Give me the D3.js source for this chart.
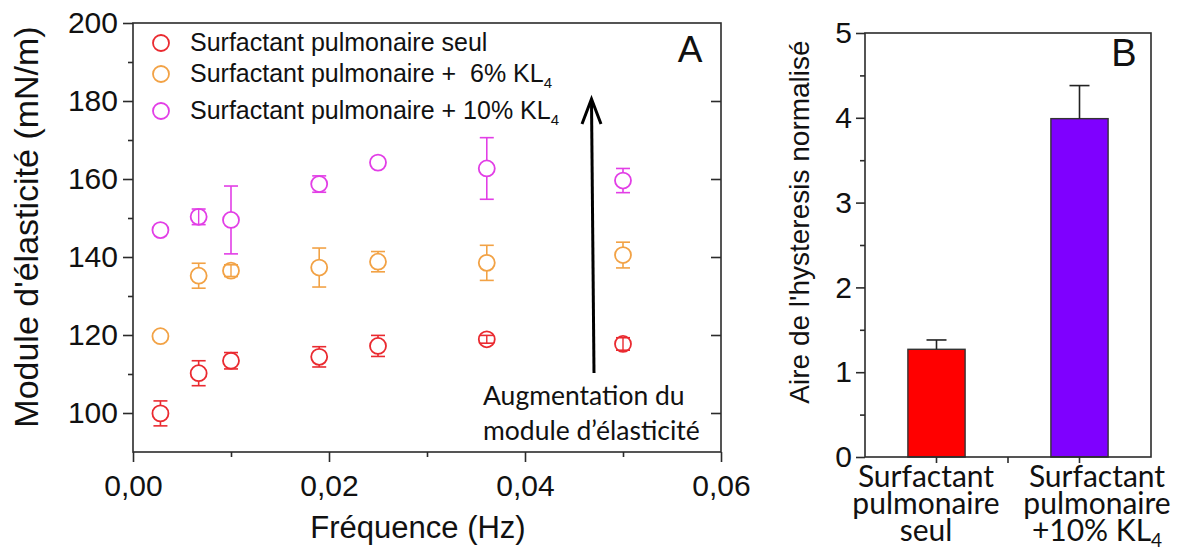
<!DOCTYPE html>
<html><head><meta charset="utf-8">
<script src="https://cdn.jsdelivr.net/npm/d3@7"></script>
<style>
html,body{margin:0;padding:0;background:#fff;}
svg{display:block;}
</style></head>
<body>
<script>
// ---------- DATA ----------
const frequencies = [0.0028, 0.0067, 0.0100, 0.0190, 0.0250, 0.0361, 0.0500];
const seulValues  = [99.9, 110.2, 113.4, 114.4, 117.2, 118.9, 117.7];
const seulErrors  = [3.2, 3.2, 2.1, 2.6, 2.7, 1.0, 1.6];
const kl6Values   = [119.7, 135.2, 136.5, 137.3, 138.8, 138.5, 140.5];
const kl6Errors   = [0, 3.2, 1.5, 5.0, 2.6, 4.5, 3.3];
const kl10Values  = [146.9, 150.3, 149.5, 158.7, 164.2, 162.7, 159.6];
const kl10Errors  = [0, 2.0, 8.7, 2.1, 0, 7.9, 3.1];
const legendLabels = ["Surfactant pulmonaire seul", "Surfactant pulmonaire +  6% KL", "Surfactant pulmonaire + 10% KL"];
const legendSubs   = ["", "4", "4"];
const yTicksA = [100, 120, 140, 160, 180, 200];
const yMinorA = [110, 130, 150, 170, 190];
const xTicksA = [0, 0.02, 0.04, 0.06];
const xTickLabelsA = ["0,00", "0,02", "0,04", "0,06"];
const xMinorA = [0.01, 0.03, 0.05];

const barCategories = ["seul", "kl10"];
const barValues = [1.27, 3.99];
const barErrors = [0.11, 0.39];
const barLabelLines = [["Surfactant", "pulmonaire", "seul"], ["Surfactant", "pulmonaire", "+10% KL"]];
const barLabelSubs = ["", "4"];
const yTicksB = [0, 1, 2, 3, 4, 5];
const yMinorB = [0.5, 1.5, 2.5, 3.5, 4.5];

// ---------- STYLE ----------
const seriesColors = ["#ea2a30", "#f2a245", "#e23ee6"];
const barColors = ["#ff0000", "#7f00ff"];
const axisColor = "#2b2b2b";
const arial = "'Liberation Sans', Arial, sans-serif";
const calibri = "Lato, 'Open Sans', sans-serif";

const W = 1182, H = 549;
const svg = d3.select("body").append("svg").attr("width", W).attr("height", H);

// ---------- PANEL A ----------
const A = {left: 133, right: 721, top: 23, bottom: 452};
const xA = d3.scaleLinear().domain([0, 0.06]).range([A.left, A.right]);
const yA = d3.scaleLinear().domain([90, 200]).range([A.bottom, A.top]);
const gA = svg.append("g");

gA.append("rect").attr("x", A.left).attr("y", A.top).attr("width", A.right - A.left).attr("height", A.bottom - A.top)
  .attr("fill", "none").attr("stroke", axisColor).attr("stroke-width", 1.6);

const leftAx = gA.append("g").attr("transform", `translate(${A.left},0)`)
  .call(d3.axisLeft(yA).tickValues(yTicksA).tickSize(10).tickPadding(5).tickFormat(d3.format("d")));
leftAx.select(".domain").remove();
leftAx.selectAll("line").attr("stroke", axisColor).attr("stroke-width", 1.6);
leftAx.selectAll("text").attr("font-family", arial).attr("font-size", 30).attr("fill", "#111");
gA.append("g").attr("transform", `translate(${A.left},0)`)
  .call(d3.axisLeft(yA).tickValues(yMinorA).tickSize(5).tickFormat(""))
  .call(g => g.select(".domain").remove())
  .selectAll("line").attr("stroke", axisColor).attr("stroke-width", 1.6);
gA.append("g").attr("transform", `translate(${A.right},0)`)
  .call(d3.axisLeft(yA).tickValues(yTicksA.slice(0, -1)).tickSize(10).tickFormat(""))
  .call(g => g.select(".domain").remove())
  .selectAll("line").attr("stroke", axisColor).attr("stroke-width", 1.6);

const botAx = gA.append("g").attr("transform", `translate(0,${A.bottom})`)
  .call(d3.axisBottom(xA).tickValues(xTicksA).tickSize(10).tickPadding(13).tickFormat((d, i) => xTickLabelsA[i]));
botAx.select(".domain").remove();
botAx.selectAll("line").attr("stroke", axisColor).attr("stroke-width", 1.6);
botAx.selectAll("text").attr("font-family", arial).attr("font-size", 30).attr("fill", "#111");
gA.append("g").attr("transform", `translate(0,${A.bottom})`)
  .call(d3.axisBottom(xA).tickValues(xMinorA).tickSize(5).tickFormat(""))
  .call(g => g.select(".domain").remove())
  .selectAll("line").attr("stroke", axisColor).attr("stroke-width", 1.6);

gA.append("text").attr("transform", `translate(38,227) rotate(-90)`)
  .attr("text-anchor", "middle").attr("font-family", arial).attr("font-size", 34).attr("fill", "#111")
  .text("Module d'élasticité (mN/m)");
gA.append("text").attr("x", 418).attr("y", 538)
  .attr("text-anchor", "middle").attr("font-family", arial).attr("font-size", 31).attr("fill", "#111")
  .text("Fréquence (Hz)");

gA.append("text").attr("x", 690).attr("y", 62).attr("text-anchor", "middle")
  .attr("font-family", arial).attr("font-size", 37).attr("fill", "#111").text("A");

const series = [
  {values: seulValues, errors: seulErrors, color: seriesColors[0]},
  {values: kl6Values, errors: kl6Errors, color: seriesColors[1]},
  {values: kl10Values, errors: kl10Errors, color: seriesColors[2]}
];
const R = 8, capHalf = 7;
series.forEach(s => {
  const g = gA.append("g");
  frequencies.forEach((f, i) => {
    const cx = xA(f), cy = yA(s.values[i]);
    const e = s.errors[i];
    if (e > 0) {
      const yTop = yA(s.values[i] + e), yBot = yA(s.values[i] - e);
      if (cy - yTop > R) {
        g.append("line").attr("x1", cx).attr("x2", cx).attr("y1", yTop).attr("y2", cy - R)
          .attr("stroke", s.color).attr("stroke-width", 1.6);
        g.append("line").attr("x1", cx).attr("x2", cx).attr("y1", cy + R).attr("y2", yBot)
          .attr("stroke", s.color).attr("stroke-width", 1.6);
      } else {
        g.append("line").attr("x1", cx).attr("x2", cx).attr("y1", yTop).attr("y2", yBot)
          .attr("stroke", s.color).attr("stroke-width", 1.4);
      }
      [yTop, yBot].forEach(yy => g.append("line").attr("x1", cx - capHalf).attr("x2", cx + capHalf)
        .attr("y1", yy).attr("y2", yy).attr("stroke", s.color).attr("stroke-width", 1.6));
    }
    g.append("circle").attr("cx", cx).attr("cy", cy).attr("r", R)
      .attr("fill", "none").attr("stroke", s.color).attr("stroke-width", 1.8);
  });
});

const legendY = [43, 74, 111];
legendLabels.forEach((lab, i) => {
  gA.append("circle").attr("cx", 161).attr("cy", legendY[i]).attr("r", R)
    .attr("fill", "none").attr("stroke", seriesColors[i]).attr("stroke-width", 1.8);
  const t = gA.append("text").attr("x", 190).attr("y", legendY[i] + 8)
    .attr("font-family", arial).attr("font-size", 25).attr("fill", "#111").attr("xml:space", "preserve");
  t.append("tspan").text(lab);
  if (legendSubs[i]) t.append("tspan").attr("font-size", 15).attr("dy", 6).text(legendSubs[i]);
});

gA.append("line").attr("x1", 594).attr("y1", 373).attr("x2", 591.5).attr("y2", 101)
  .attr("stroke", "#000").attr("stroke-width", 3);
gA.append("path").attr("d", "M582,124 L591.5,99 L601,124").attr("fill", "none")
  .attr("stroke", "#000").attr("stroke-width", 3).attr("stroke-linejoin", "miter");

const ann = gA.append("text").attr("x", 483).attr("y", 405).attr("font-family", calibri).attr("font-size", 26.5).attr("fill", "#111");
ann.append("tspan").attr("x", 483).text("Augmentation du");
ann.append("tspan").attr("x", 483).attr("dy", 35).text("module d\u2019élasticité");

// ---------- PANEL B ----------
const B = {left: 865, right: 1151, top: 33, bottom: 457};
const xB = d3.scaleBand().domain(barCategories).range([B.left, B.right]).padding(0);
const yB = d3.scaleLinear().domain([0, 5]).range([B.bottom, B.top]);
const gB = svg.append("g");
const barW = xB.bandwidth() * 0.4;

barCategories.forEach((c, i) => {
  const cx = xB(c) + xB.bandwidth() / 2;
  gB.append("rect").attr("x", cx - barW / 2).attr("y", yB(barValues[i])).attr("width", barW)
    .attr("height", yB(0) - yB(barValues[i])).attr("fill", barColors[i]).attr("stroke", "#333").attr("stroke-width", 1.4);
  gB.append("line").attr("x1", cx).attr("x2", cx).attr("y1", yB(barValues[i])).attr("y2", yB(barValues[i] + barErrors[i]))
    .attr("stroke", "#222").attr("stroke-width", 1.6);
  gB.append("line").attr("x1", cx - 10).attr("x2", cx + 10)
    .attr("y1", yB(barValues[i] + barErrors[i])).attr("y2", yB(barValues[i] + barErrors[i]))
    .attr("stroke", "#222").attr("stroke-width", 1.6);
});

gB.append("rect").attr("x", B.left).attr("y", B.top).attr("width", B.right - B.left).attr("height", B.bottom - B.top)
  .attr("fill", "none").attr("stroke", axisColor).attr("stroke-width", 1.6);

const leftB = gB.append("g").attr("transform", `translate(${B.left},0)`)
  .call(d3.axisLeft(yB).tickValues(yTicksB).tickSize(9).tickPadding(4).tickFormat(d3.format("d")));
leftB.select(".domain").remove();
leftB.selectAll("line").attr("stroke", axisColor).attr("stroke-width", 1.6);
leftB.selectAll("text").attr("font-family", arial).attr("font-size", 30).attr("fill", "#111");
gB.append("g").attr("transform", `translate(${B.left},0)`)
  .call(d3.axisLeft(yB).tickValues(yMinorB).tickSize(5).tickFormat(""))
  .call(g => g.select(".domain").remove())
  .selectAll("line").attr("stroke", axisColor).attr("stroke-width", 1.6);

const xTickPos = [xB(barCategories[0]) + xB.bandwidth() / 2, xB(barCategories[1]), xB(barCategories[1]) + xB.bandwidth() / 2];
xTickPos.forEach(p => gB.append("line").attr("x1", p).attr("x2", p).attr("y1", B.bottom).attr("y2", B.bottom + 6)
  .attr("stroke", axisColor).attr("stroke-width", 1.6));

gB.append("text").attr("transform", `translate(809,222) rotate(-90)`)
  .attr("text-anchor", "middle").attr("font-family", arial).attr("font-size", 28).attr("fill", "#111")
  .text("Aire de l'hysteresis normalisé");

gB.append("text").attr("x", 1124).attr("y", 66).attr("text-anchor", "middle")
  .attr("font-family", arial).attr("font-size", 38).attr("fill", "#111").text("B");

const labelCentres = [926, 1097];
barLabelLines.forEach((lines, i) => {
  const t = gB.append("text").attr("x", labelCentres[i]).attr("y", 487)
    .attr("text-anchor", "middle").attr("font-family", calibri).attr("font-size", 30).attr("fill", "#111");
  lines.forEach((ln, j) => {
    const ts = t.append("tspan").attr("x", labelCentres[i]).attr("dy", j === 0 ? 0 : 27);
    ts.append("tspan").text(ln);
    if (j === lines.length - 1 && barLabelSubs[i]) ts.append("tspan").attr("font-size", 19).attr("dy", 6).text(barLabelSubs[i]);
  });
});
</script>
</body></html>
